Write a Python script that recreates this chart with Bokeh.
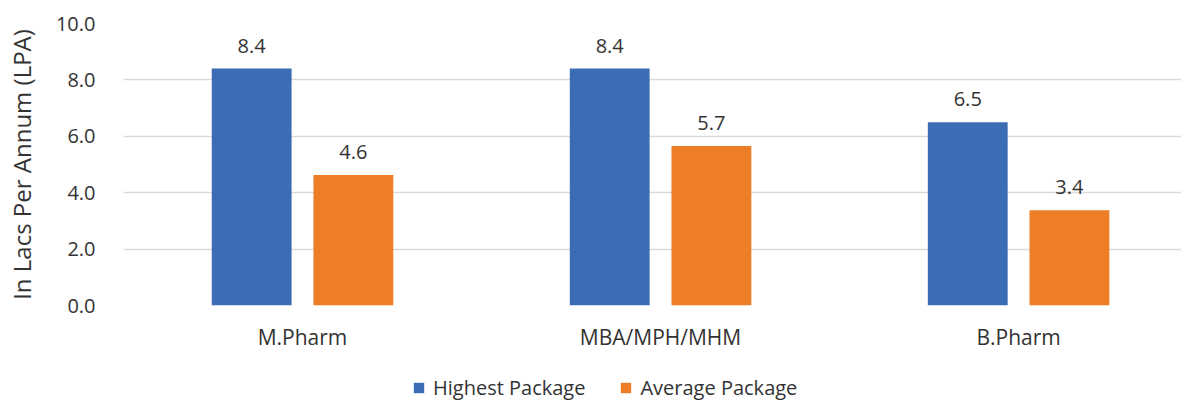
from bokeh.plotting import figure
from bokeh.layouts import column
from bokeh.models import Range1d, FixedTicker, NumeralTickFormatter, Legend, LegendItem, ColumnDataSource
from bokeh.embed import file_html
from bokeh.resources import INLINE
from bokeh.core.properties import value

categories = ["M.Pharm", "MBA/MPH/MHM", "B.Pharm"]
highest = [8.4, 8.4, 6.5]
average = [4.63, 5.66, 3.38]
series_names = ["Highest Package", "Average Package"]
colors = ["#3C6CB4", "#ED7D26"]

FONT = "Open Sans"
TXT = "#333333"

p = figure(width=1181, height=353, output_backend="svg", toolbar_location=None,
           x_range=Range1d(-0.5, 2.455), y_range=Range1d(0, 10),
           min_border_left=123, min_border_right=0, min_border_top=23, min_border_bottom=48)
p.outline_line_color = None
p.background_fill_color = "white"

xs = list(range(len(categories)))
off = 0.142
bw = 0.223
src_h = ColumnDataSource(dict(x=[x - off for x in xs], top=highest, lab=[f"{v:.1f}" for v in highest]))
src_a = ColumnDataSource(dict(x=[x + off for x in xs], top=average, lab=[f"{v:.1f}" for v in average]))

r1 = p.vbar(x="x", top="top", width=bw, source=src_h, fill_color=colors[0], line_color=None)
r2 = p.vbar(x="x", top="top", width=bw, source=src_a, fill_color=colors[1], line_color=None)

for s in (src_h, src_a):
    p.text(x="x", y="top", text="lab", source=s, text_align="center", text_baseline="alphabetic",
           y_offset=-23, text_font=value(FONT), text_font_size="20px", text_color=TXT)

# axes
p.xaxis.ticker = FixedTicker(ticks=xs)
p.xaxis.major_label_overrides = {i: c for i, c in enumerate(categories)}
p.xaxis.axis_line_color = None
p.xaxis.major_tick_line_color = None
p.xaxis.minor_tick_line_color = None
p.xaxis.major_label_standoff = 11
p.xaxis.major_label_text_font = FONT
p.xaxis.major_label_text_font_size = "21px"
p.xaxis.major_label_text_color = TXT

p.yaxis.ticker = FixedTicker(ticks=[0, 2, 4, 6, 8, 10])
p.yaxis.formatter = NumeralTickFormatter(format="0.0")
p.yaxis.axis_line_color = None
p.yaxis.major_tick_line_color = None
p.yaxis.minor_tick_line_color = None
p.yaxis.major_label_standoff = 22
p.yaxis.major_label_text_font = FONT
p.yaxis.major_label_text_font_size = "20px"
p.yaxis.major_label_text_color = TXT
p.yaxis.axis_label = "In Lacs Per Annum (LPA)"
p.yaxis.axis_label_text_font = FONT
p.yaxis.axis_label_text_font_size = "24px"
p.yaxis.axis_label_text_font_style = "normal"
p.yaxis.axis_label_text_color = TXT
p.yaxis.axis_label_standoff = 15

p.xgrid.grid_line_color = None
p.ygrid.grid_line_color = "#D9D9D9"
p.ygrid.grid_line_width = 1.5

# legend strip below the chart (swatch renderers sit outside the visible range)
lg = figure(width=1181, height=48, output_backend="svg", toolbar_location=None,
            x_range=Range1d(0, 1), y_range=Range1d(0, 1), x_axis_type=None, y_axis_type=None,
            min_border_left=123, min_border_right=0, min_border_top=0, min_border_bottom=0)
lg.outline_line_color = None
lg.background_fill_color = None
lg.border_fill_color = None
lg.xgrid.visible = False
lg.ygrid.visible = False
k1 = lg.vbar(x=[5], top=[1], width=0.1, fill_color=colors[0], line_color=None)
k2 = lg.vbar(x=[5], top=[1], width=0.1, fill_color=colors[1], line_color=None)
legend = Legend(items=[LegendItem(label=series_names[0], renderers=[k1]),
                       LegendItem(label=series_names[1], renderers=[k2])],
                location=(289, 0), orientation="horizontal",
                padding=0, margin=0, spacing=34, label_standoff=8,
                glyph_width=13, glyph_height=13,
                label_text_font=FONT, label_text_font_size="20px", label_text_color=TXT,
                border_line_color=None, background_fill_alpha=0)
lg.add_layout(legend)

layout = column(p, lg, spacing=0)
open("out.html", "w").write(file_html(layout, INLINE))
